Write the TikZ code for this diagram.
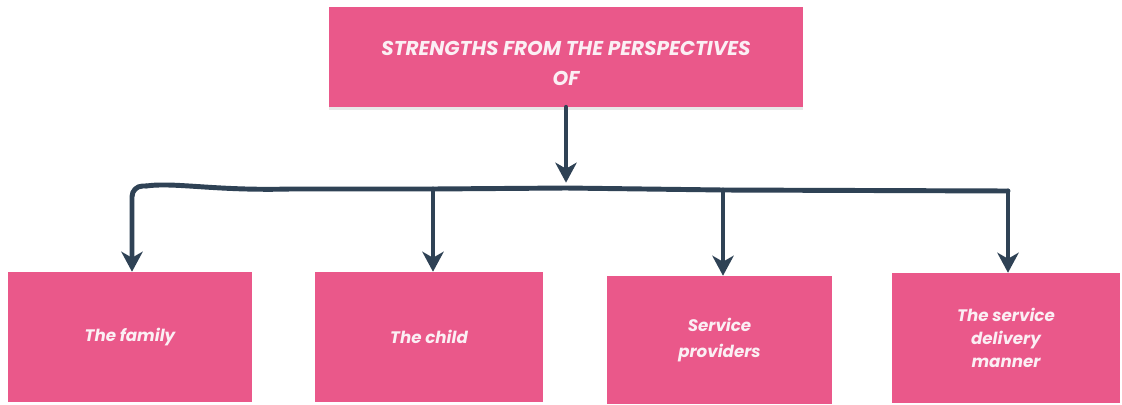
\documentclass[tikz,border=0pt]{standalone}
\usepackage{fontspec}
\newfontfamily\pop{Poppins}
\usetikzlibrary{arrows.meta,shadows,calc}
\definecolor{pinkbox}{HTML}{EA588A}
\definecolor{wirecol}{HTML}{2F4255}
\definecolor{txtcol}{HTML}{FBEFF4}
\tikzset{
  topbox/.style={fill=pinkbox, draw=none, minimum width=355.5pt, minimum height=75pt,
    drop shadow={opacity=0.18, shadow xshift=0pt, shadow yshift=-2.5pt}},
  leafbox/.style={fill=pinkbox, draw=none, minimum height=97.5pt, text=txtcol,
    font=\pop\bfseries\itshape\fontsize{12.5}{18}\selectfont, align=center},
  toptext/.style={text=txtcol, font=\pop\bfseries\itshape\fontsize{15}{22.5}\selectfont, align=center},
  wire/.style={draw=wirecol, line width=3.7pt, line cap=round, line join=round},
  arr/.style={wire, -{Stealth[length=15pt,width=16pt,inset=4.5pt]}},
}
\begin{document}
\begin{tikzpicture}[x=0.75pt,y=-0.75pt]
\useasboundingbox[fill=white] (0,0) rectangle (1122,404);
% top box
\node[topbox] (top) at (566,57) {};
\node[toptext] (toplabel) at (566,63) {STRENGTHS FROM THE PERSPECTIVES\\OF};
% leaf boxes
\node[leafbox, minimum width=183pt] (b1) at (130,337) {The family};
\node[leafbox, minimum width=171pt] (b2) at (429,337) {The child};
\node[leafbox, minimum width=168.75pt, minimum height=96pt,
  font=\pop\bfseries\itshape\fontsize{12.5}{20}\selectfont] (b3) at (719.5,340) {Service\\providers};
\node[leafbox, minimum width=171pt,
  font=\pop\bfseries\itshape\fontsize{12.5}{17.5}\selectfont] (b4) at (1006,338) {The service\\delivery\\manner};
% bus coordinates
\coordinate (hub) at (566,188);
\coordinate (c1a) at (146,186);
\coordinate (c1) at (132,186);
\coordinate (j2) at (433,189);
\coordinate (j3) at (723,190);
\coordinate (c4) at (1008,191);
% connectors
\draw[arr, shorten >=4pt] (top.south -| hub) -- (hub);
\draw[wire] (c1a) .. controls (175,182) and (215,191) .. (290,189) -- (j2) -- (hub) -- (j3) -- (c4);
\draw[arr, rounded corners=8pt] (c1a) -- (c1) -- (c1 |- b1.north);
\draw[arr] (j2) -- (j2 |- b2.north);
\draw[arr] (j3) -- (j3 |- b3.north);
\draw[arr] (c4) -- (c4 |- b4.north);
\end{tikzpicture}
\end{document}
